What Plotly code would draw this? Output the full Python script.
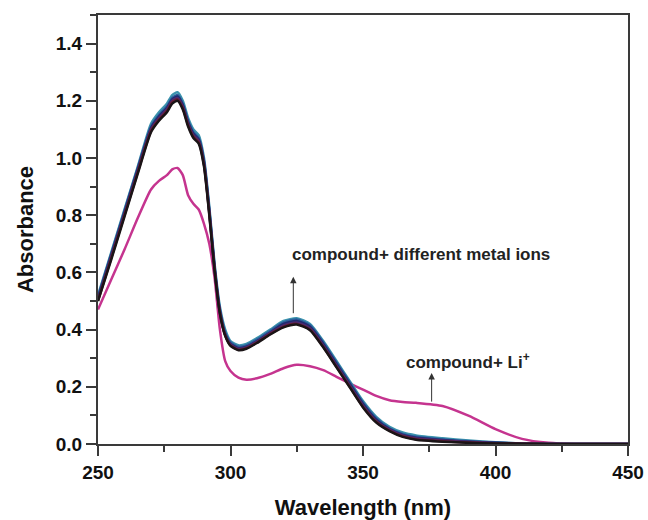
import plotly.graph_objects as go

# Wavelength grid (nm)
wavelength = [250, 255, 260, 265, 270, 273, 276, 278, 280, 282,
              284, 286, 288, 290, 292, 294, 296, 298, 300, 303,
              306, 310, 315, 320, 325, 330, 335, 340, 345, 350,
              355, 360, 365, 370, 380, 390, 400, 410, 420, 430,
              440, 450]

# compound + different metal ions (bundle of nearly identical spectra)
ion_a = [0.52, 0.67, 0.82, 0.97, 1.12, 1.16, 1.19, 1.22, 1.23, 1.20,
         1.14, 1.10, 1.08, 1.00, 0.83, 0.63, 0.48, 0.40, 0.36, 0.345,
         0.35, 0.37, 0.40, 0.43, 0.44, 0.42, 0.36, 0.29, 0.22, 0.15,
         0.095, 0.06, 0.04, 0.03, 0.02, 0.012, 0.006, 0.002, 0, 0, 0, 0]
ion_b = [0.515, 0.665, 0.815, 0.965, 1.11, 1.15, 1.18, 1.21, 1.22, 1.19,
         1.13, 1.09, 1.07, 0.99, 0.82, 0.62, 0.47, 0.39, 0.355, 0.34,
         0.345, 0.365, 0.395, 0.425, 0.435, 0.415, 0.355, 0.285, 0.215, 0.145,
         0.09, 0.055, 0.035, 0.025, 0.016, 0.01, 0.005, 0.002, 0, 0, 0, 0]
ion_c = [0.51, 0.66, 0.81, 0.96, 1.105, 1.145, 1.175, 1.205, 1.215, 1.185,
         1.125, 1.085, 1.065, 0.985, 0.815, 0.615, 0.465, 0.385, 0.35, 0.335,
         0.34, 0.36, 0.39, 0.42, 0.43, 0.41, 0.35, 0.28, 0.21, 0.14,
         0.085, 0.052, 0.032, 0.022, 0.014, 0.008, 0.004, 0.001, 0, 0, 0, 0]
ion_d = [0.505, 0.655, 0.805, 0.955, 1.10, 1.14, 1.17, 1.20, 1.21, 1.18,
         1.12, 1.08, 1.06, 0.98, 0.81, 0.61, 0.46, 0.38, 0.348, 0.333,
         0.338, 0.358, 0.388, 0.415, 0.425, 0.405, 0.345, 0.275, 0.205, 0.135,
         0.08, 0.05, 0.03, 0.02, 0.012, 0.007, 0.003, 0.001, 0, 0, 0, 0]
ion_e = [0.50, 0.65, 0.80, 0.95, 1.095, 1.135, 1.165, 1.195, 1.205, 1.175,
         1.115, 1.075, 1.055, 0.975, 0.805, 0.61, 0.46, 0.38, 0.345, 0.33,
         0.335, 0.355, 0.385, 0.41, 0.42, 0.40, 0.34, 0.27, 0.20, 0.13,
         0.078, 0.047, 0.027, 0.017, 0.01, 0.005, 0.002, 0.001, 0, 0, 0, 0]
ion_f = [0.50, 0.645, 0.795, 0.945, 1.09, 1.13, 1.16, 1.19, 1.20, 1.17,
         1.11, 1.07, 1.05, 0.97, 0.80, 0.605, 0.455, 0.378, 0.343, 0.328,
         0.333, 0.353, 0.383, 0.408, 0.418, 0.398, 0.338, 0.268, 0.198, 0.128,
         0.075, 0.045, 0.025, 0.015, 0.008, 0.004, 0.002, 0.001, 0, 0, 0, 0]

# compound + Li+
li = [0.47, 0.575, 0.68, 0.79, 0.89, 0.92, 0.94, 0.96, 0.965, 0.94,
      0.87, 0.84, 0.82, 0.77, 0.70, 0.58, 0.40, 0.29, 0.255, 0.232,
      0.225, 0.23, 0.245, 0.265, 0.277, 0.272, 0.258, 0.235, 0.212, 0.19,
      0.168, 0.153, 0.147, 0.144, 0.133, 0.098, 0.052, 0.018, 0.004, 0, 0, 0]

x_ticks = [250, 300, 350, 400, 450]
y_ticks = [0.0, 0.2, 0.4, 0.6, 0.8, 1.0, 1.2, 1.4]

bundle = [("ion A", ion_a, "#3b93ad"), ("ion B", ion_b, "#2d5f9c"),
          ("ion C", ion_c, "#1e2b6e"), ("ion D", ion_d, "#4a2a70"),
          ("ion E", ion_e, "#6a1c35"), ("ion F", ion_f, "#1a1416")]

FONT = "Liberation Sans, Arial, Helvetica"

fig = go.Figure()
fig.add_trace(go.Scatter(x=wavelength, y=li, mode="lines", name="compound+ Li+",
                         line=dict(color="#c5348f", width=2.5, shape="spline", smoothing=0.6)))
for name, vals, col in bundle:
    fig.add_trace(go.Scatter(x=wavelength, y=vals, mode="lines", name=name,
                             line=dict(color=col, width=2.5, shape="spline", smoothing=0.6)))

axis_common = dict(showline=True, linecolor="#3a3a3a", linewidth=2, mirror=True,
                   ticks="outside", ticklen=10, tickwidth=2, tickcolor="#3a3a3a",
                   showgrid=False, zeroline=False, automargin=False,
                   tickfont=dict(family=FONT, size=19, color="#111"))

fig.update_xaxes(range=[250, 450], tickvals=x_ticks,
                 ticktext=["<b>%d</b>" % v for v in x_ticks],
                 minor=dict(ticks="outside", ticklen=6, tickwidth=2, tickcolor="#3a3a3a", dtick=25, tick0=250),
                 title=dict(text="<b>Wavelength (nm)</b>", font=dict(family=FONT, size=22, color="#111"), standoff=24),
                 **axis_common)
fig.update_yaxes(range=[0, 1.5], tickvals=y_ticks,
                 ticktext=["<b>%.1f</b>" % v for v in y_ticks],
                 minor=dict(ticks="outside", ticklen=6, tickwidth=2, tickcolor="#3a3a3a", dtick=0.1, tick0=0),
                 title=dict(text="<b>Absorbance</b>", font=dict(family=FONT, size=22, color="#111"), standoff=16),
                 **axis_common)

ann_font = dict(family=FONT, size=17, color="#222")
fig.add_annotation(x=372, y=0.664, text="<b>compound+ different metal ions</b>",
                   showarrow=False, font=ann_font)
fig.add_annotation(x=323.7, y=0.585, ax=323.7, ay=0.452, axref="x", ayref="y",
                   text="", showarrow=True, arrowhead=2, arrowsize=1.3, arrowwidth=1, arrowcolor="#333")
fig.add_annotation(x=389.5, y=0.29, text="<b>compound+ Li<sup>+</sup></b>",
                   showarrow=False, font=ann_font)
fig.add_annotation(x=375.9, y=0.248, ax=375.9, ay=0.143, axref="x", ayref="y",
                   text="", showarrow=True, arrowhead=2, arrowsize=1.3, arrowwidth=1, arrowcolor="#333")

fig.update_layout(width=648, height=520, plot_bgcolor="white", paper_bgcolor="white",
                  showlegend=False, margin=dict(l=98, r=20, t=15, b=76, autoexpand=False))

# remove the default page margin so the 648x520 figure fills the window exactly
fig.write_html("out.html", config={"displayModeBar": False},
               post_script="document.body.style.margin='0px';document.body.style.overflow='hidden';")
